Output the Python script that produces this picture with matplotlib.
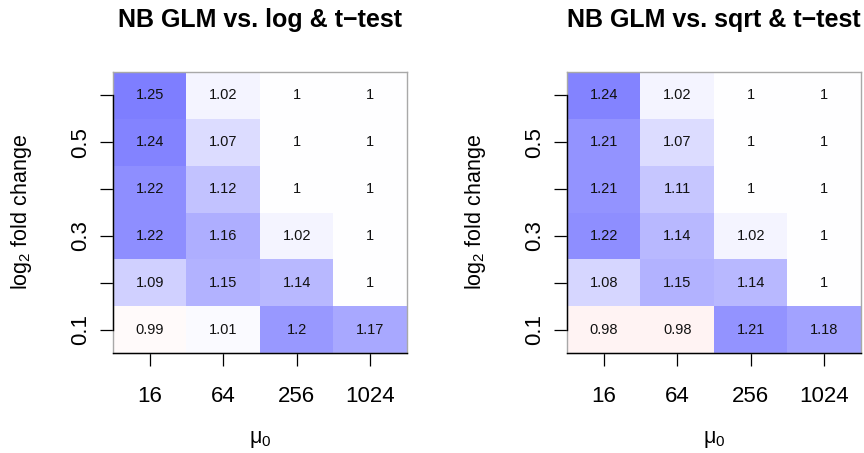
import numpy as np
import matplotlib.pyplot as plt
from matplotlib.colors import LinearSegmentedColormap, Normalize

plt.rcParams["font.family"] = ["Liberation Sans", "DejaVu Sans"]

mu0 = ["16", "64", "256", "1024"]
lfc = ["0.1", "0.2", "0.3", "0.4", "0.5", "0.6"]
lfc_labels = ["0.1", "", "0.3", "", "0.5", ""]

# efficiency ratios, rows = log2 fold change (0.1 .. 0.6), cols = mu0
ratio_log = [
    [0.99, 1.01, 1.20, 1.17],
    [1.09, 1.15, 1.14, 1.00],
    [1.22, 1.16, 1.02, 1.00],
    [1.22, 1.12, 1.00, 1.00],
    [1.24, 1.07, 1.00, 1.00],
    [1.25, 1.02, 1.00, 1.00],
]
ratio_sqrt = [
    [0.98, 0.98, 1.21, 1.18],
    [1.08, 1.15, 1.14, 1.00],
    [1.22, 1.14, 1.02, 1.00],
    [1.21, 1.11, 1.00, 1.00],
    [1.21, 1.07, 1.00, 1.00],
    [1.24, 1.02, 1.00, 1.00],
]
titles = ["NB GLM vs. log & t\u2212test", "NB GLM vs. sqrt & t\u2212test"]

cmap = LinearSegmentedColormap.from_list("rwb", ["red", "white", "blue"])
norm = Normalize(vmin=0.5, vmax=1.5)

W, H = 864, 453
fig = plt.figure(figsize=(W / 100, H / 100), dpi=100)

panels = [(113, ratio_log, titles[0]), (567, ratio_sqrt, titles[1])]
for left, vals, title in panels:
    vals = np.array(vals)
    ax = fig.add_axes([left / W, 1 - 353 / H, 294 / W, 281 / H])
    ax.imshow(vals, cmap=cmap, norm=norm, origin="lower", aspect="auto",
              extent=(-0.5, 3.5, -0.5, 5.5), interpolation="nearest")
    for i in range(vals.shape[0]):
        for j in range(vals.shape[1]):
            ax.text(j, i, f"{vals[i, j]:g}", ha="center", va="center",
                    fontsize=10.5, color="#111111")

    for s in ax.spines.values():
        s.set_color("#a8a8a8")
        s.set_linewidth(1.0)
    ax.set_xlim(-0.5, 3.5)
    ax.set_ylim(-0.5, 5.5)

    ax.set_xticks(range(len(mu0)))
    ax.set_xticklabels(mu0, fontsize=16)
    ax.set_yticks(range(len(lfc)))
    ax.set_yticklabels(lfc_labels, fontsize=16, rotation=90, va="center")
    ax.tick_params(direction="out", length=9.5, width=0.9, color="black")
    ax.tick_params(axis="x", pad=14)
    ax.tick_params(axis="y", pad=6)

    # axis lines in the style of base graphics, drawn over the grey box
    ax.plot([-0.5, -0.5], [0, 5], color="black", lw=1.0, clip_on=False,
            zorder=5)
    ax.plot([-0.5, 3.5], [-0.5, -0.5], color="black", lw=1.0, clip_on=False,
            zorder=5)

    cx = (left + 147) / W
    fig.text(cx, 1 - 20 / H, title, ha="center", va="center",
             fontsize=18, fontweight="bold")
    fig.text(cx, 1 - 440 / H, r"$\mathregular{\mu_0}$", ha="center",
             va="center", fontsize=15.5)
    fig.text((left - 91) / W, 1 - 212.5 / H,
             r"$\mathregular{log_2}$ fold change", rotation=90,
             ha="center", va="center", fontsize=15.5)

fig.savefig("out.png", dpi=100)
